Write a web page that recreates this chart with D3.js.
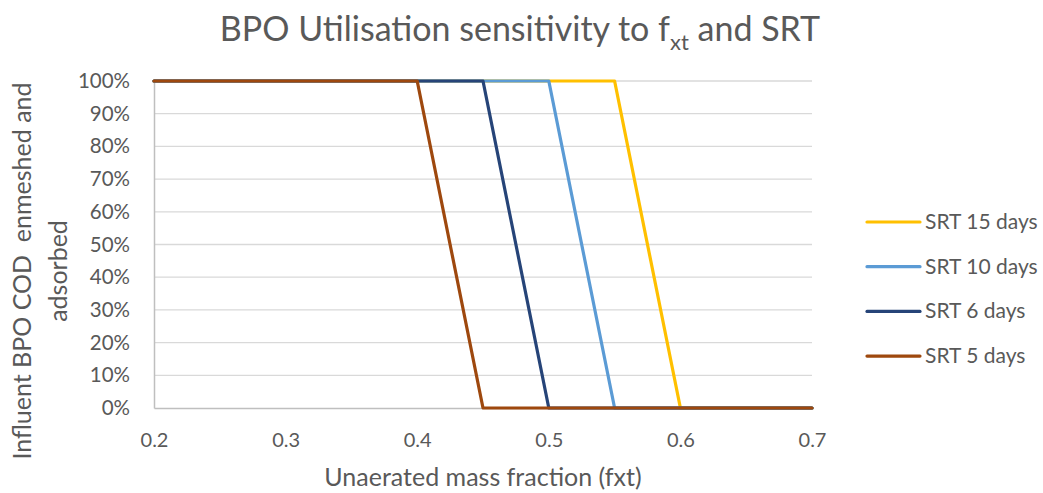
<!DOCTYPE html>
<html><head><meta charset="utf-8">
<script src="https://cdn.jsdelivr.net/npm/d3@7"></script>
<style>body{margin:0;background:#fff}svg{display:block}text{font-family:Lato,"Open Sans",sans-serif;fill:#595959}</style>
</head><body>
<svg id="c" width="1043" height="493"></svg>
<script>
const xValues = [0.2, 0.25, 0.3, 0.35, 0.4, 0.45, 0.5, 0.55, 0.6, 0.65, 0.7];
const srt15 = [1, 1, 1, 1, 1, 1, 1, 1, 0, 0, 0];
const srt10 = [1, 1, 1, 1, 1, 1, 1, 0, 0, 0, 0];
const srt6  = [1, 1, 1, 1, 1, 1, 0, 0, 0, 0, 0];
const srt5  = [1, 1, 1, 1, 1, 0, 0, 0, 0, 0, 0];
const seriesNames = ["SRT 15 days", "SRT 10 days", "SRT 6 days", "SRT 5 days"];
const seriesValues = [srt15, srt10, srt6, srt5];
const colors = ["#FFC000", "#5B9BD5", "#264478", "#9E480E"];
const xTicks = [0.2, 0.3, 0.4, 0.5, 0.6, 0.7];
const yTicks = [0, 0.1, 0.2, 0.3, 0.4, 0.5, 0.6, 0.7, 0.8, 0.9, 1];

const svg = d3.select("#c");
const x = d3.scaleLinear().domain([0.2, 0.7]).range([154, 812]);
const y = d3.scaleLinear().domain([0, 1]).range([408, 81]);

// gridlines
svg.append("g").selectAll("line").data(yTicks.filter(d => d > 0)).join("line")
  .attr("x1", x(0.2)).attr("x2", x(0.7))
  .attr("y1", d => y(d)).attr("y2", d => y(d))
  .attr("stroke", "#d9d9d9").attr("stroke-width", 1.3);

// axes
const xAxis = svg.append("g").attr("transform", `translate(0,${y(0)})`)
  .call(d3.axisBottom(x).tickValues(xTicks).tickSize(0).tickPadding(25).tickFormat(d3.format(".1f")));
xAxis.select(".domain").attr("stroke", "#bfbfbf").attr("stroke-width", 1.5);
xAxis.selectAll("text").style("font-size", "20px").attr("fill", "#595959");

const yAxis = svg.append("g").attr("transform", `translate(${x(0.2)},0)`)
  .call(d3.axisLeft(y).tickValues(yTicks).tickSize(0).tickPadding(24).tickFormat(d3.format(".0%")));
yAxis.select(".domain").attr("stroke", "#bfbfbf").attr("stroke-width", 1.5);
yAxis.selectAll("text").style("font-size", "20.5px").attr("fill", "#595959");

// lines
const line = d3.line().x((d, i) => x(xValues[i])).y(d => y(d));
svg.append("g").selectAll("path").data(seriesValues).join("path")
  .attr("d", d => line(d)).attr("fill", "none")
  .attr("stroke", (d, i) => colors[i]).attr("stroke-width", 3.2)
  .attr("stroke-linejoin", "round").attr("stroke-linecap", "round");

// title
const title = svg.append("text").attr("x", 520).attr("y", 41).attr("text-anchor", "middle")
  .style("font-size", "34px");
title.append("tspan").text("BPO Utilisation sensitivity to f");
title.append("tspan").text("xt").attr("dy", 9).style("font-size", "22px");
title.append("tspan").text(" and SRT").attr("dy", -9);

// axis titles
svg.append("text").attr("x", 483).attr("y", 486).attr("text-anchor", "middle")
  .style("font-size", "25px").text("Unaerated mass fraction (fxt)");
const yt = svg.append("text").attr("transform", "translate(31,271) rotate(-90)")
  .attr("text-anchor", "middle").style("font-size", "25px").style("white-space", "pre");
yt.append("tspan").attr("x", 0).attr("dy", 0).text("Influent BPO COD  enmeshed and");
yt.append("tspan").attr("x", 0).attr("dy", 36).text("adsorbed");

// legend
const lg = svg.append("g").selectAll("g").data(seriesNames).join("g")
  .attr("transform", (d, i) => `translate(867,${222 + i * 44.7})`);
lg.append("line").attr("x1", 0).attr("x2", 53).attr("stroke", (d, i) => colors[i])
  .attr("stroke-width", 3.2).attr("stroke-linecap", "round");
lg.append("text").attr("x", 58).attr("y", 7).style("font-size", "21px").text(d => d);
</script>
</body></html>
